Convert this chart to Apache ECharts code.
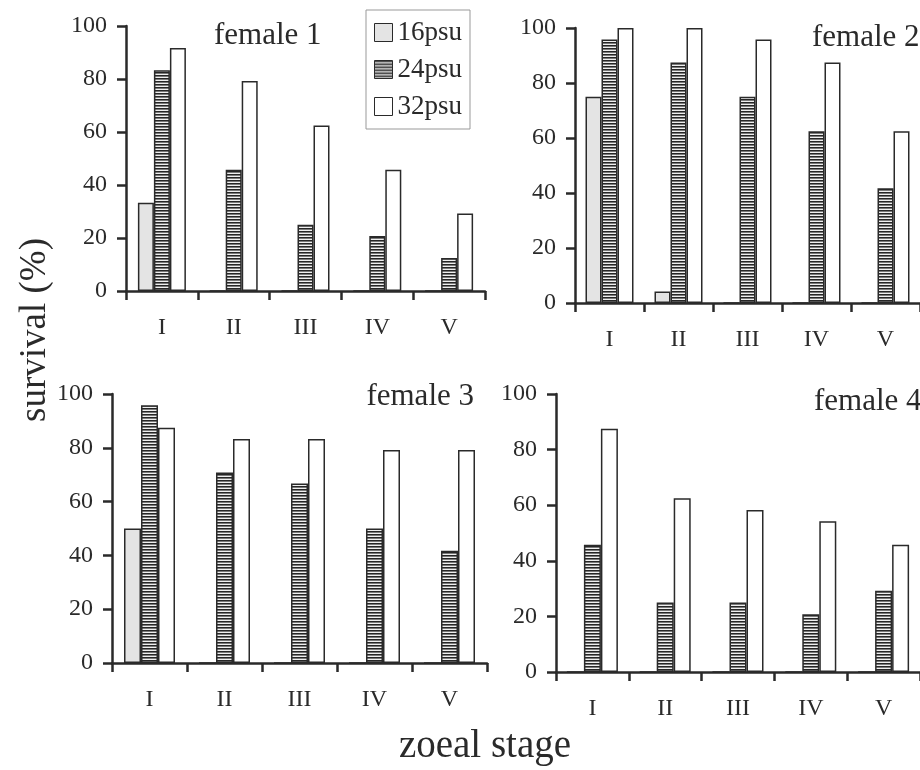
<!DOCTYPE html>
<html>
<head>
<meta charset="utf-8">
<script src="https://cdn.jsdelivr.net/npm/echarts@6/dist/echarts.min.js"></script>
<style>
html,body{margin:0;padding:0;background:#fff;}
#c{width:920px;height:770px;}
</style>
</head>
<body>
<div id="c"></div>
<script>
// ---- data ----
const stages = ['I', 'II', 'III', 'IV', 'V'];
const yTicks = [0, 20, 40, 60, 80, 100];
const salinities = ['16psu', '24psu', '32psu'];
const panelTitles = ['female 1', 'female 2', 'female 3', 'female 4'];

const female1_16 = [33.3, 0, 0, 0, 0];
const female1_24 = [83.3, 45.8, 25, 20.8, 12.5];
const female1_32 = [91.7, 79.2, 62.5, 45.8, 29.2];

const female2_16 = [75, 4.2, 0, 0, 0];
const female2_24 = [95.8, 87.5, 75, 62.5, 41.7];
const female2_32 = [100, 100, 95.8, 87.5, 62.5];

const female3_16 = [50, 0, 0, 0, 0];
const female3_24 = [95.8, 70.8, 66.7, 50, 41.7];
const female3_32 = [87.5, 83.3, 83.3, 79.2, 79.2];

const female4_16 = [0, 0, 0, 0, 0];
const female4_24 = [45.8, 25, 25, 20.8, 29.2];
const female4_32 = [87.5, 62.5, 58.3, 54.2, 45.8];

const panelData = [
  [female1_16, female1_24, female1_32],
  [female2_16, female2_24, female2_32],
  [female3_16, female3_24, female3_32],
  [female4_16, female4_24, female4_32]
];

// ---- layout / style ----
const FONT = '"Liberation Serif", "Times New Roman", serif';
const INK = '#2a2a2a';
const grids = [
  {left: 126, top: 26, width: 359, height: 265},
  {left: 575, top: 28, width: 353, height: 275},
  {left: 112, top: 394, width: 375, height: 269},
  {left: 556, top: 394, width: 372, height: 278}
];
const barWidths = [16, 16, 17, 17];
const titlePos = [
  {left: 214, top: 20},
  {left: 812, top: 22},
  {right: 446, top: 381},
  {left: 814, top: 386}
];

// striped pattern for 24psu
const pc = document.createElement('canvas');
pc.width = 4; pc.height = 3;
const pctx = pc.getContext('2d');
pctx.fillStyle = '#efefef'; pctx.fillRect(0, 0, 4, 3);
pctx.fillStyle = '#262626'; pctx.fillRect(0, 0, 4, 1);
pctx.fillStyle = '#7a7a7a'; pctx.fillRect(0, 1, 4, 1);
const stripe = {image: pc, repeat: 'repeat'};
const fills = ['#e4e4e4', stripe, '#ffffff'];

const xAxes = [], yAxes = [], series = [], titles = [];
grids.forEach((g, i) => {
  xAxes.push({
    type: 'category', gridIndex: i, data: stages, boundaryGap: true,
    axisLine: {lineStyle: {color: INK, width: 2.5}},
    axisTick: {show: true, length: 9, lineStyle: {color: INK, width: 2.5}},
    axisLabel: {margin: 25, fontFamily: FONT, fontSize: 24, color: INK}
  });
  yAxes.push({
    type: 'value', gridIndex: i, min: 0, max: 100, interval: 20,
    splitLine: {show: false},
    axisLine: {show: true, lineStyle: {color: INK, width: 2.5}},
    axisTick: {show: true, length: 9, lineStyle: {color: INK, width: 2.5}},
    axisLabel: {margin: 19, fontFamily: FONT, fontSize: 24, color: INK}
  });
  salinities.forEach((s, k) => {
    series.push({
      type: 'bar', name: s, xAxisIndex: i, yAxisIndex: i,
      data: panelData[i][k],
      barWidth: barWidths[i], barGap: '0%',
      itemStyle: {color: fills[k], borderColor: INK, borderWidth: 1.5},
      emphasis: {disabled: true}
    });
  });
  titles.push(Object.assign({
    text: panelTitles[i], padding: 0,
    textStyle: {fontFamily: FONT, fontSize: 31, fontWeight: 'normal', color: INK}
  }, titlePos[i]));
});

const chart = echarts.init(document.getElementById('c'), null, {renderer: 'canvas'});
chart.setOption({
  animation: false,
  backgroundColor: '#ffffff',
  title: titles,
  grid: grids,
  xAxis: xAxes,
  yAxis: yAxes,
  series: series,
  legend: {
    data: salinities, orient: 'vertical', left: 366, top: 10,
    padding: [9, 8, 9, 8], itemGap: 10, itemWidth: 18, itemHeight: 18,
    icon: 'rect', selectedMode: false,
    borderColor: '#999', borderWidth: 1, backgroundColor: '#ffffff',
    itemStyle: {borderColor: INK, borderWidth: 1},
    textStyle: {fontFamily: FONT, fontSize: 27, color: INK}
  },
  graphic: [
    {type: 'text', x: 35, y: 330, rotation: Math.PI / 2,
     style: {text: 'survival (%)', font: '37px "Liberation Serif"', fill: INK, align: 'center', verticalAlign: 'middle'}},
    {type: 'text', x: 485, y: 747,
     style: {text: 'zoeal stage', font: '39px "Liberation Serif"', fill: INK, align: 'center', verticalAlign: 'middle'}}
  ]
});
</script>
</body>
</html>
